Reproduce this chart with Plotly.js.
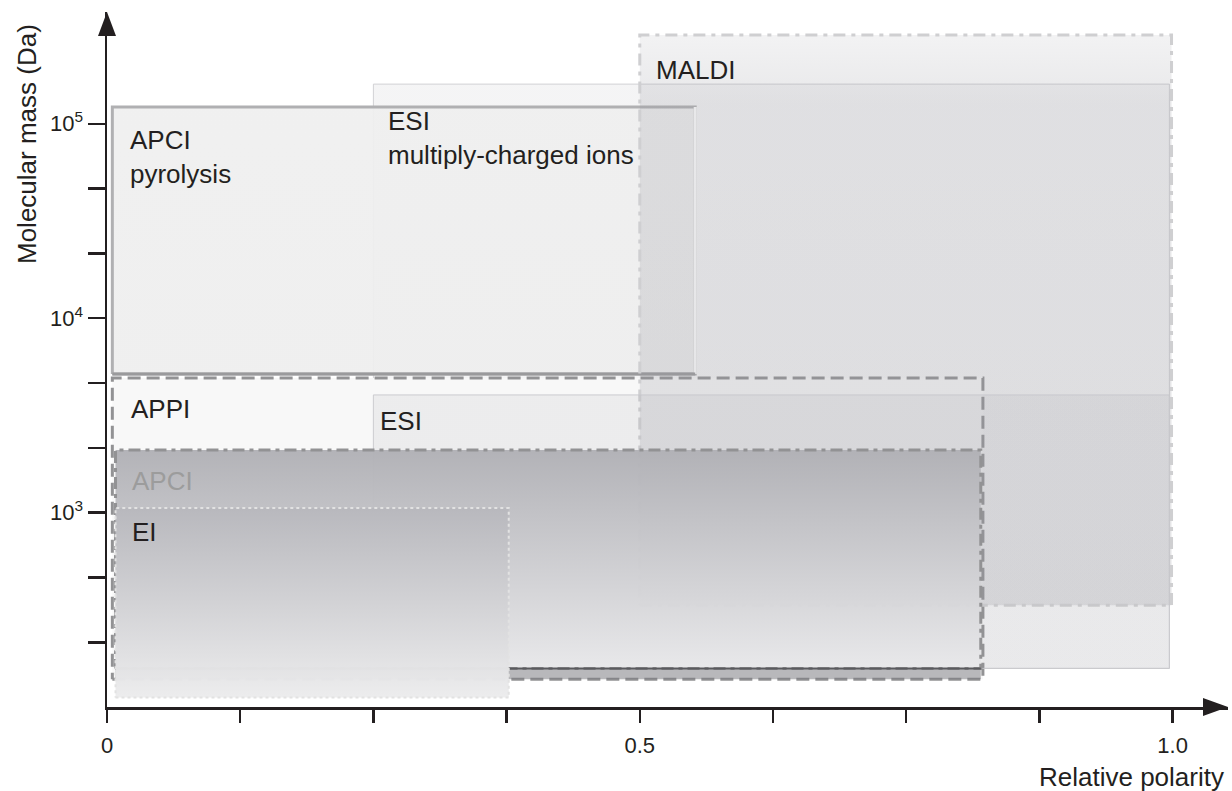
<!DOCTYPE html>
<html>
<head>
<meta charset="utf-8">
<script src="https://cdn.plot.ly/plotly-3.0.1.min.js"></script>
<style>html,body{margin:0;padding:0;background:#fff;}#chart{width:1232px;height:791px;}</style>
</head>
<body>
<div id="chart"></div>
<script>
// ---- data, listed in drawing order ----
const methods      = ['ESI multiply-charged ions', 'APCI pyrolysis', 'APPI', 'MALDI', 'ESI', 'APCI', 'EI'];
const labelText    = ['ESI<br>multiply-charged ions', 'APCI<br>pyrolysis', 'APPI', 'MALDI', 'ESI', 'APCI', 'EI'];
const polarityMin  = [0.25, 0.005, 0.005, 0.5, 0.25, 0.008, 0.008];
const polarityMax  = [0.997, 0.552, 0.822, 0.999, 0.997, 0.820, 0.377];
const massMin      = [158, 5160, 139, 334, 158, 158, 112];
const massMax      = [160000, 122000, 4920, 286000, 4030, 2100, 1055];

const xTickVals      = [0, 0.5, 1.0];
const xTickText      = ['0', '0.5', '1.0'];
const xMinorTickVals = [0.125, 0.25, 0.375, 0.625, 0.75, 0.875];
const yTickVals      = [1000, 10000, 100000];
const yTickText      = ['10<sup>3</sup>', '10<sup>4</sup>', '10<sup>5</sup>'];
const yMinorTickVals = [215, 464, 2154, 4642, 21544, 46416];

// ---- styles (per method) ----
const G = '150,150,158';
const styles = {
  'ESI multiply-charged ions': {fill: [[0, 'rgba(' + G + ',0.10)'], [1, 'rgba(' + G + ',0.10)']], line: 'rgba(205,205,208,0.9)', width: 1, dash: 'solid', label: '#231f20', lx: 13, ly: -20},
  'APCI pyrolysis': {fill: [[0, 'rgba(238,238,238,0.93)'], [1, 'rgba(239,239,239,0.93)']], line: '#b0b0b2', width: 3, dash: 'solid', label: '#231f20', lx: 16, ly: -16},
  'APPI':       {fill: [[0, 'rgba(248,248,248,1)'], [1, 'rgba(248,248,248,1)']], line: '#929294', width: 3, dash: '13px,6px', label: '#231f20', lx: 17, ly: -14},
  'MALDI':      {fill: [[0, 'rgba(' + G + ',0.25)'], [0.88, 'rgba(' + G + ',0.22)'], [1, 'rgba(' + G + ',0.12)']], line: '#cfcfd1', width: 3, dash: '12px,6px,4px,6px', label: '#231f20', lx: 14, ly: -18},
  'ESI':        {fill: [[0, 'rgba(' + G + ',0.12)'], [1, 'rgba(' + G + ',0.12)']], line: 'rgba(200,200,204,0.9)', width: 1, dash: 'solid', label: '#231f20', lx: 5, ly: -9},
  'APCI':       {fill: [[0, 'rgba(232,232,234,0.96)'], [1, 'rgba(176,176,181,0.96)']], line: '#929294', width: 3, dash: '12px,5px,4px,5px', label: '#9c9c9c', lx: 14, ly: -14},
  'EI':         {fill: [[0, 'rgba(236,236,237,0.98)'], [1, 'rgba(184,184,189,0.98)']], line: '#e2e2e2', width: 2, dash: '3px,3px', label: '#231f20', lx: 14, ly: -7}
};

const rectXY = i => ({
  x: [polarityMin[i], polarityMax[i], polarityMax[i], polarityMin[i], polarityMin[i]],
  y: [massMin[i], massMin[i], massMax[i], massMax[i], massMin[i]]
});

const iPyro = methods.indexOf('APCI pyrolysis');
const iAPPI = methods.indexOf('APPI');
const iAPCI = methods.indexOf('APCI');
const iEI   = methods.indexOf('EI');

const data = [];
methods.forEach((m, i) => {
  const r = rectXY(i);
  const s = styles[m];
  if (i === iEI) {
    // dark shadow band under the APCI box, between its lower edge and the APPI lower edge
    data.push({
      type: 'scatter', mode: 'lines', fill: 'toself',
      x: [polarityMin[iAPCI], polarityMax[iAPCI], polarityMax[iAPCI], polarityMin[iAPCI], polarityMin[iAPCI]],
      y: [massMin[iAPPI], massMin[iAPPI], massMin[iAPCI], massMin[iAPCI], massMin[iAPPI]],
      fillcolor: 'rgba(120,120,126,0.5)', line: {width: 0}, hoverinfo: 'skip', showlegend: false
    });
    // dark solid lower edge of the APCI box
    data.push({type: 'scatter', mode: 'lines', x: [polarityMin[iAPCI], polarityMax[iAPCI]], y: [massMin[iAPCI], massMin[iAPCI]],
      line: {color: '#5a5a5e', width: 2}, hoverinfo: 'skip', showlegend: false});
  }
  data.push({
    type: 'scatter', mode: 'lines', x: r.x, y: r.y, fill: 'toself',
    fillgradient: {type: 'vertical', colorscale: s.fill},
    line: {width: 0}, hoverinfo: 'skip', showlegend: false, name: m
  });
  data.push({type: 'scatter', mode: 'lines', x: r.x, y: r.y,
    line: {color: s.line, width: s.width, dash: s.dash}, hoverinfo: 'skip', showlegend: false, name: m + ' border'});
  if (i === iPyro) {
    // white right edge and darker lower edge of the APCI pyrolysis box
    data.push({type: 'scatter', mode: 'lines', x: [polarityMax[iPyro], polarityMax[iPyro]], y: [massMin[iPyro], massMax[iPyro]],
      line: {color: '#ffffff', width: 3}, hoverinfo: 'skip', showlegend: false});
    data.push({type: 'scatter', mode: 'lines', x: [polarityMin[iPyro], polarityMax[iPyro]], y: [massMin[iPyro], massMin[iPyro]],
      line: {color: '#9a9a9c', width: 3}, hoverinfo: 'skip', showlegend: false});
  }
});

const FONT = 'Liberation Sans, Arial, Helvetica, sans-serif';
const annotations = methods.map((m, i) => ({
  x: polarityMin[i], y: Math.log10(massMax[i]), xref: 'x', yref: 'y',
  text: labelText[i], showarrow: false, xanchor: 'left', yanchor: 'top', align: 'left',
  xshift: styles[m].lx, yshift: styles[m].ly,
  font: {family: FONT, size: 26, color: styles[m].label}
}));
annotations.push({
  xref: 'paper', yref: 'paper', x: -0.0714, y: 0.81, text: 'Molecular mass (Da)', textangle: -90,
  showarrow: false, xanchor: 'center', yanchor: 'middle',
  font: {family: FONT, size: 26, color: '#231f20'}
});
annotations.push({
  xref: 'paper', yref: 'paper', x: 0.998, y: -0.101, text: 'Relative polarity',
  showarrow: false, xanchor: 'right', yanchor: 'middle',
  font: {family: FONT, size: 26, color: '#231f20'}
});

const layout = {
  width: 1232, height: 791,
  margin: {l: 107, r: 4, t: 12, b: 84},
  paper_bgcolor: '#ffffff', plot_bgcolor: '#ffffff',
  showlegend: false,
  xaxis: {
    range: [0, 1.052], showgrid: false, zeroline: false,
    showline: true, linecolor: '#231f20', linewidth: 2.5,
    ticks: 'outside', ticklen: 13, tickwidth: 2.5, tickcolor: '#231f20',
    tickvals: xTickVals, ticktext: xTickText, ticklabelstandoff: 4,
    minor: {tickvals: xMinorTickVals, ticks: 'outside', ticklen: 13, tickwidth: 2.5, tickcolor: '#231f20', showgrid: false},
    tickfont: {family: FONT, size: 22, color: '#231f20'}
  },
  yaxis: {
    type: 'log', range: [2, 5.575], showgrid: false, zeroline: false,
    showline: true, linecolor: '#231f20', linewidth: 2.5,
    ticks: 'outside', ticklen: 17, tickwidth: 2.5, tickcolor: '#231f20',
    tickvals: yTickVals, ticktext: yTickText,
    minor: {tickvals: yMinorTickVals, ticks: 'outside', ticklen: 17, tickwidth: 2.5, tickcolor: '#231f20', showgrid: false},
    tickfont: {family: FONT, size: 22, color: '#231f20'}
  },
  annotations: annotations,
  shapes: [
    {type: 'path', xref: 'paper', yref: 'paper', path: 'M -0.00803 0.9655 L 0.00803 0.9655 L 0 1.0 Z', fillcolor: '#231f20', line: {width: 0}},
    {type: 'path', xref: 'paper', yref: 'paper', path: 'M 0.9777 0.01295 L 0.9777 -0.01295 L 1.0 0 Z', fillcolor: '#231f20', line: {width: 0}}
  ]
};

Plotly.newPlot('chart', data, layout, {displayModeBar: false, staticPlot: true});
</script>
</body>
</html>
